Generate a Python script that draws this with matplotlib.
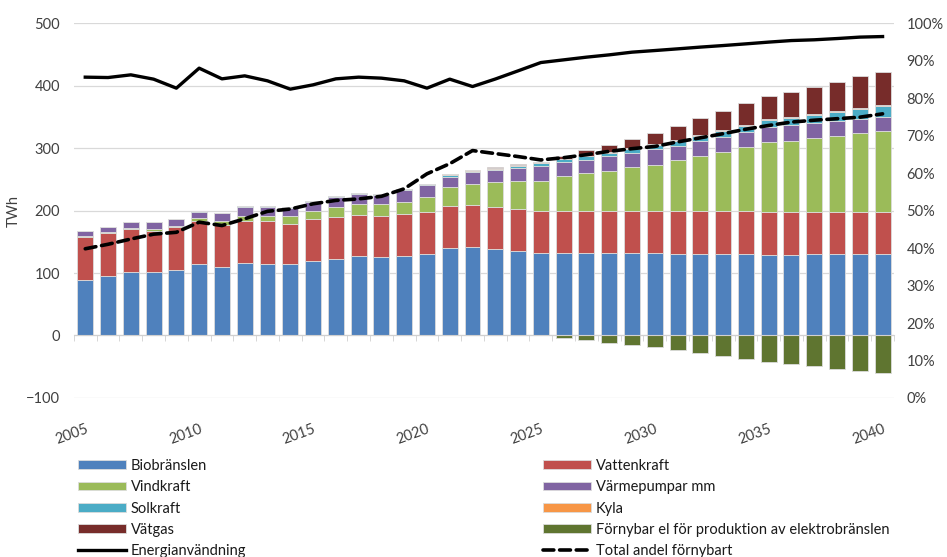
import numpy as np
import matplotlib
matplotlib.use("Agg")
import matplotlib.pyplot as plt
from matplotlib.ticker import FuncFormatter, FixedLocator

plt.rcParams['font.family'] = ['Lato', 'DejaVu Sans']

years = list(range(2005, 2041))

# TWh, stacked segments
biobranslen = [89, 96, 101, 101, 105, 114.5, 110, 116, 114.5, 114.5, 118.7, 122.5, 126.7, 125, 126.7, 131,
               140.6, 141.7, 138, 134.7, 132, 132, 132, 132, 132, 132, 131, 131, 131, 131, 129.4, 129.4,
               131, 131, 131, 131]
vattenkraft = [69, 68, 69, 67, 69, 69.5, 67, 68, 68, 64.5, 67.3, 67, 66, 66, 67.3, 67,
               67, 67, 68, 67.3, 67.7, 67.7, 67.7, 67.7, 67.7, 67.7, 68.7, 68.7, 68.7, 68.7, 68.6, 68.6,
               67, 67, 67, 67]
vindkraft = [2, 2, 1.5, 3, 2, 3.5, 5.6, 7, 8, 11.6, 13, 16.4, 17.2, 19, 20, 24,
             29.3, 33, 39, 45.6, 48.3, 54.8, 60.3, 63.9, 69.3, 72.9, 81.3, 87.8, 94.7, 101.3, 111, 114,
             117.7, 121.5, 125.8, 130]
varmepumpar = [7, 7, 9.5, 10, 10, 10.5, 13.4, 14.5, 15, 13.4, 15, 16.5, 16, 15, 19, 19,
               17.5, 19.3, 20, 20.4, 23.6, 22.5, 21, 23, 22.8, 25.4, 22.5, 24.5, 24.1, 25.4, 24, 25.7,
               24.1, 24.5, 22.8, 22.3]
solkraft = [0.5, 0.5, 0.5, 0.5, 0.5, 1, 0.7, 1.5, 1.5, 1, 1, 1.5, 2, 1.5, 1.5, 1.5,
            2.2, 2, 2, 4, 4.2, 5, 5.6, 5.4, 7.2, 7, 8.5, 7.5, 9, 9.6, 12, 11,
            13.2, 14, 15.4, 17.7]
kyla = [0, 0, 0, 0, 0, 0, 0, 0, 0, 0, 0, 0, 0, 0, 0, 0,
        1.3, 1.5, 1.2, 1.2, 1.2, 1.3, 1.3, 1.3, 1.3, 1.4, 1.4, 1.4, 1.5, 1.5, 1.5, 1.5,
        1.5, 1.6, 1.6, 1.7]
vatgas = [0, 0, 0, 0, 0, 0, 0, 0, 0, 0, 0, 0, 0, 0, 0, 0,
          0, 0, 1.3, 0.8, 1.5, 3.3, 9.1, 11.7, 14.4, 18.4, 22.6, 26.9, 31, 34.1, 37.4, 40.1,
          43.8, 46.6, 51.7, 52.3]
fornybar_el = [0, 0, 0, 0, 0, 0, 0, 0, 0, 0, 0, 0, 0, 0, 0, 0,
               0, 0, 0, 0, 0, -3.7, -7.5, -11.7, -15.5, -18, -23.5, -27.7, -33, -37.2, -42.6, -46.3,
               -49, -53, -57, -60.7]

# TWh
energianvandning = [413.5, 412.9, 417.2, 410.3, 395.9, 427.9, 410.8, 415.6, 407.6, 394.3, 401.2, 410.8,
                    413.5, 411.9, 407.6, 395.9, 410.3, 398.5, 410.5, 423.6, 436.9, 441.2, 445.5, 449.2,
                    453.5, 456.1, 458.8, 461.6, 464.1, 466.8, 469.6, 472.1, 473.3, 475.3, 477.6, 478.5]
# share (0-1)
andel_fornybart = [0.398, 0.410, 0.424, 0.437, 0.442, 0.469, 0.460, 0.478, 0.498, 0.504, 0.518, 0.527,
                   0.531, 0.538, 0.558, 0.598, 0.625, 0.660, 0.652, 0.644, 0.635, 0.641, 0.649, 0.658,
                   0.665, 0.671, 0.683, 0.694, 0.705, 0.717, 0.727, 0.736, 0.741, 0.745, 0.749, 0.758]

stack_series = [
    ("Biobränslen", biobranslen, "#4F81BD"),
    ("Vattenkraft", vattenkraft, "#C0504D"),
    ("Vindkraft", vindkraft, "#9BBB59"),
    ("Värmepumpar mm", varmepumpar, "#8064A2"),
    ("Solkraft", solkraft, "#4BACC6"),
    ("Kyla", kyla, "#F79646"),
    ("Vätgas", vatgas, "#772C2A"),
]

fig = plt.figure(figsize=(9.47, 5.57), dpi=100)
ax = fig.add_axes([0.078, 0.2855, 0.866, 0.673])

x = np.arange(len(years))
width = 0.7
bottom = np.zeros(len(years))
handles = {}
for name, vals, col in stack_series:
    vals = np.array(vals, dtype=float)
    b = ax.bar(x, vals, width, bottom=bottom, color=col, edgecolor="#dcdcdc", linewidth=0.6, label=name)
    handles[name] = b
    bottom += vals
b = ax.bar(x, fornybar_el, width, color="#5F7530", edgecolor="#dcdcdc", linewidth=0.6,
           label="Förnybar el för produktion av elektrobränslen")
handles["Förnybar el för produktion av elektrobränslen"] = b

l1, = ax.plot(x, energianvandning, color="black", lw=2.4, solid_joinstyle="round", zorder=5,
              label="Energianvändning")
handles["Energianvändning"] = l1

ax.set_xlim(-0.5, len(years) - 0.5)
ax.set_ylim(-100, 500)
ax.set_yticks(range(-100, 501, 100))
ax.yaxis.grid(True, color="#d9d9d9", lw=0.9)
ax.set_axisbelow(True)
for s in ["left", "right", "top"]:
    ax.spines[s].set_visible(False)
ax.spines["bottom"].set_position(("data", 0))
ax.spines["bottom"].set_color("#d0d0d0")
ax.tick_params(axis="y", length=0, pad=10, labelsize=10.5, labelcolor="#404040")
ax.set_ylabel("TWh", fontsize=10.5, color="#404040", labelpad=4)

ax.xaxis.set_minor_locator(FixedLocator(np.arange(-0.5, len(years), 1.0)))
ax.tick_params(axis="x", which="minor", length=4, color="#d0d0d0")
major_idx = [i for i, yr in enumerate(years) if yr % 5 == 0]
ax.set_xticks(major_idx)
ax.set_xticklabels([str(years[i]) for i in major_idx], rotation=20, ha="right", va="top",
                   rotation_mode="anchor", fontsize=10.5, color="#404040")
ax.tick_params(axis="x", which="major", length=0, pad=62)

ax2 = ax.twinx()
ax2.set_ylim(0, 1)
ax2.set_yticks(np.arange(0, 1.01, 0.1))
ax2.yaxis.set_major_formatter(FuncFormatter(lambda v, p: f"{v*100:.0f}%"))
ax2.tick_params(axis="y", length=0, pad=9, labelsize=10.5, labelcolor="#404040")
for s in ax2.spines.values():
    s.set_visible(False)
l2, = ax2.plot(x, andel_fornybart, color="black", lw=2.6, ls=(0, (3, 1.6)), dash_capstyle="round",
               label="Total andel förnybart")
handles["Total andel förnybart"] = l2

col1 = ["Biobränslen", "Vindkraft", "Solkraft", "Vätgas", "Energianvändning"]
col2 = ["Vattenkraft", "Värmepumpar mm", "Kyla", "Förnybar el för produktion av elektrobränslen",
        "Total andel förnybart"]
for names, xpos in [(col1, 0.082), (col2, 0.573)]:
    fig.legend([handles[n] for n in names], names, loc="upper left", bbox_to_anchor=(xpos, 0.176),
               frameon=False, fontsize=10.5, labelspacing=0.5, handlelength=3.3, handleheight=0.55,
               handletextpad=0.35, borderpad=0, borderaxespad=0, labelcolor="#1a1a1a")

fig.savefig("out.png", dpi=100)
